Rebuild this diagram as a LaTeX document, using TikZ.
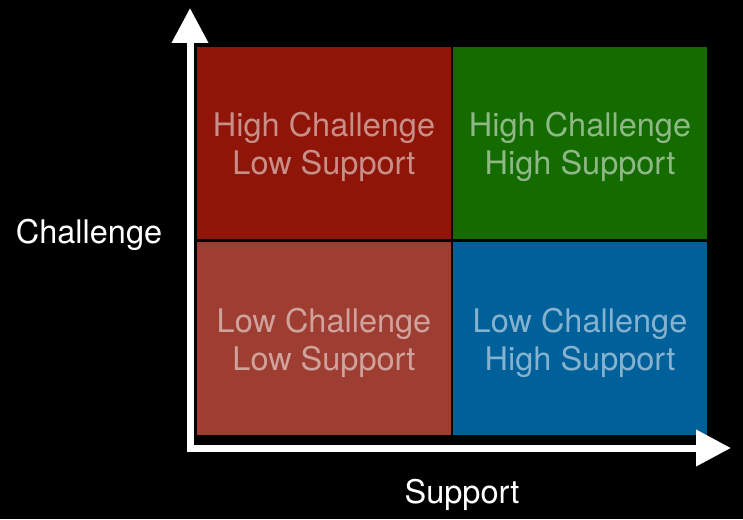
\documentclass[tikz,border=0pt]{standalone}
\usepackage{fontspec}
\setmainfont{TeX Gyre Heros}
\usetikzlibrary{arrows.meta}

\definecolor{hchlsupp}{HTML}{8E1508}
\definecolor{hchhsupp}{HTML}{146B00}
\definecolor{lchlsupp}{HTML}{9E3D31}
\definecolor{lchhsupp}{HTML}{00609A}

\tikzset{
  quad/.style={minimum width=254pt, minimum height=192pt, inner sep=0pt},
  quadtext/.style={align=center, text=white, text opacity=0.52, yshift=-4pt,
    font=\fontsize{32.5}{38}\selectfont},
  axislabel/.style={text=white, font=\fontsize{32.5}{38}\selectfont},
  axis/.style={white, line width=7pt, line join=miter,
    {Triangle[length=35pt,width=35pt]}-{Triangle[length=35pt,width=35pt]}}
}

\begin{document}
\begin{tikzpicture}[x=1pt,y=-1pt]
  \fill[black] (0,0) rectangle (743,519);
  \useasboundingbox (0,0) rectangle (743,519);

  % quadrants
  \node[quad,fill=hchlsupp,label={[quadtext]center:High Challenge\\Low Support}] (hclow) at (324,143) {};
  \node[quad,fill=hchhsupp,label={[quadtext]center:High Challenge\\High Support}] (hchigh) at (580,143) {};
  \node[quad,fill=lchlsupp,minimum height=193pt,label={[quadtext]center:Low Challenge\\Low Support}] (lclow) at (324,338.5) {};
  \node[quad,fill=lchhsupp,minimum height=193pt,label={[quadtext]center:Low Challenge\\High Support}] (lchigh) at (580,338.5) {};

  % axes
  \coordinate (origin) at (190,448);
  \coordinate (ytip) at (190,8);
  \coordinate (xtip) at (731,448);
  \draw[axis] (ytip) -- (origin) -- (xtip);

  \node[axislabel] (ylabel) at (89,235) {Challenge};
  \node[axislabel] (xlabel) at (462,495) {Support};
\end{tikzpicture}
\end{document}
